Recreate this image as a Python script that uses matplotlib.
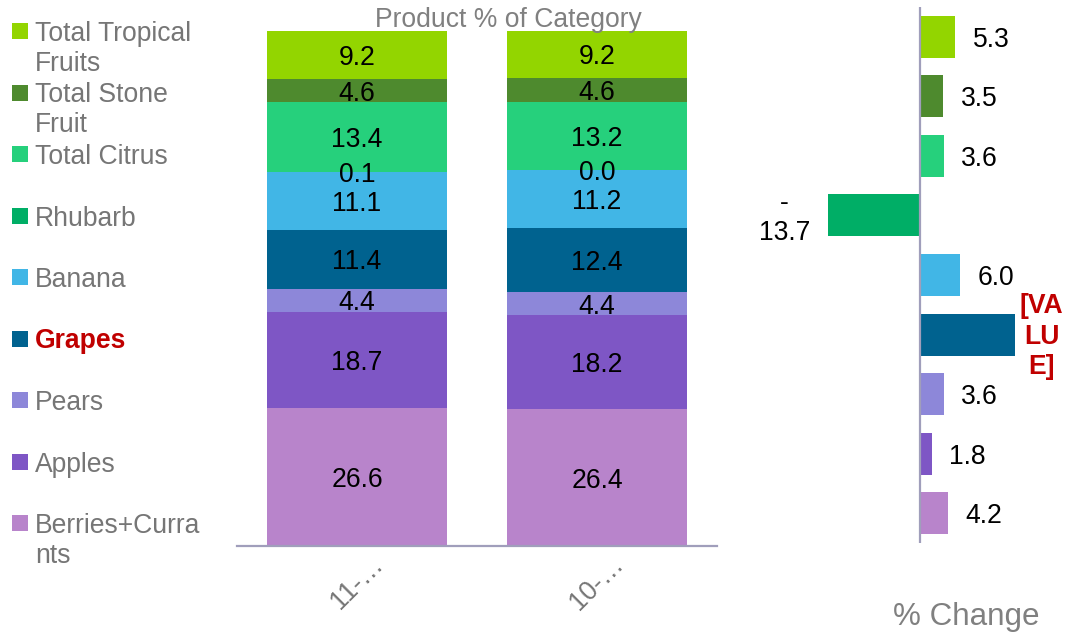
import numpy as np
import matplotlib
matplotlib.use("Agg")
import matplotlib.pyplot as plt
from matplotlib.patches import Rectangle

plt.rcParams['font.family'] = ['Liberation Sans', 'DejaVu Sans']

# stack order, bottom to top
products = ['Berries+Currants', 'Apples', 'Pears', 'Grapes', 'Banana',
            'Rhubarb', 'Total Citrus', 'Total Stone Fruit', 'Total Tropical Fruits']
legend_names = ['Berries+Curra\nnts', 'Apples', 'Pears', 'Grapes', 'Banana',
                'Rhubarb', 'Total Citrus', 'Total Stone\nFruit', 'Total Tropical\nFruits']
colors = ['#B884CB', '#7E56C5', '#8D87D9', '#00628F', '#41B6E6',
          '#00AE66', '#26D07C', '#4E8A2E', '#93D500']

periods = ['11-\u2026', '10-\u2026']
share_11 = [26.6, 18.7, 4.4, 11.4, 11.1, 0.1, 13.4, 4.6, 9.2]
share_10 = [26.4, 18.2, 4.4, 12.4, 11.2, 0.0, 13.2, 4.6, 9.2]

pct_change = [4.2, 1.8, 3.6, 14.2, 6.0, -13.7, 3.6, 3.5, 5.3]
highlight = 'Grapes'
highlight_label = '[VA\nLU\nE]'

GRAY = '#767676'
AXIS = '#A09EBB'
RED = '#C00000'
FS = 19.1

W, H = 1068, 632
fig = plt.figure(figsize=(W / 100, H / 100), dpi=100)


def px_axes(x0, y0, x1, y1):
    return fig.add_axes([x0 / W, (H - y1) / H, (x1 - x0) / W, (y1 - y0) / H])


# --- stacked share bars ---
ax = px_axes(237, 30, 717, 546)
shares = np.array([share_11, share_10])
xpos = np.arange(len(periods))
bottom = np.zeros(len(periods))
for k, name in enumerate(products):
    vals = shares[:, k]
    ax.bar(xpos, vals, 0.75, bottom=bottom, color=colors[k], linewidth=0)
    for x, b, v in zip(xpos, bottom, vals):
        ax.text(x, b + v / 2, f'{v:.1f}', ha='center', va='center_baseline',
                fontsize=FS, color='black')
    bottom += vals
ax.set_xlim(-0.5, 1.5)
ax.set_ylim(0, 99.7)
ax.set_yticks([])
ax.set_xticks(xpos)
ax.set_xticklabels(periods, rotation=45, ha='center', color=GRAY, fontsize=FS)
ax.tick_params(axis='x', length=0, pad=4)
for s in ['top', 'left', 'right']:
    ax.spines[s].set_visible(False)
ax.spines['bottom'].set_color(AXIS)
ax.spines['bottom'].set_linewidth(1.6)
fig.text(508 / W, (H - 17) / H, 'Product % of Category', ha='center',
         va='center_baseline', fontsize=FS, color='#808080')

# --- % change bars ---
axc = px_axes(760, 7, 1060, 543)
ypos = np.arange(len(products))[::-1]
axc.barh(ypos, pct_change, 0.706, color=colors, linewidth=0)
axc.axvline(0, color=AXIS, lw=1.6)
for y, v, name in zip(ypos, pct_change, products):
    if name == highlight:
        axc.annotate(highlight_label, (v, y), xytext=(3.5, -1.5),
                     textcoords='offset points', ha='left', va='center',
                     multialignment='center', fontsize=FS, color=RED,
                     fontweight='bold', linespacing=1.22)
    elif v < 0:
        axc.annotate(f'-\n{abs(v):.1f}', (v, y), xytext=(-13, -2),
                     textcoords='offset points', ha='right', va='center',
                     multialignment='center', fontsize=FS, linespacing=1.18)
    else:
        axc.annotate(f'{v:.1f}', (v, y), xytext=(12.5, 0),
                     textcoords='offset points', ha='left',
                     va='center_baseline', fontsize=FS)
axc.set_xlim(-23.95, 20.96)
axc.set_ylim(8.5, -0.5)
axc.axis('off')
fig.text(966 / W, (H - 613) / H, '% Change', ha='center',
         va='center_baseline', fontsize=22.6, color='#808080')

# --- legend, top entry first ---
axl = fig.add_axes([0, 0, 1, 1], zorder=-1)
axl.set_xlim(0, W)
axl.set_ylim(H, 0)
axl.axis('off')
for i, k in enumerate(range(len(products) - 1, -1, -1)):
    y = 31 + i * 61.5
    axl.add_patch(Rectangle((12, y - 8), 16, 16, color=colors[k], lw=0))
    bold = products[k] == highlight
    for j, line in enumerate(legend_names[k].split('\n')):
        axl.text(35, y + j * 30, line, ha='left', va='center_baseline',
                 fontsize=FS, color=RED if bold else GRAY,
                 fontweight='bold' if bold else 'normal')

fig.savefig('out.png', dpi=100)
